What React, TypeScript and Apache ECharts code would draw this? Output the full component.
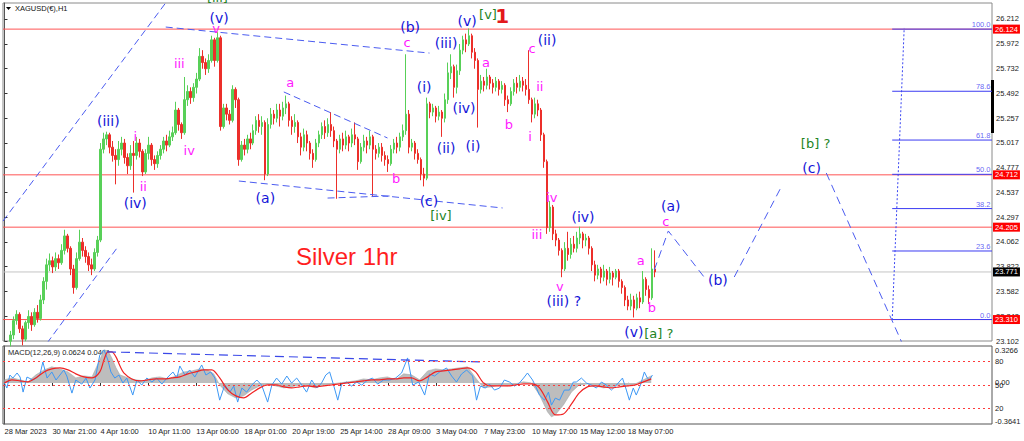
import React, { useEffect, useRef } from "react";
import * as echarts from "echarts";

// ---------- axes ----------
const N_CATS = 330;
const START_INDEX = 2;
const X_LABEL_IDX = [0, 16, 32, 48, 64, 80, 96, 112, 128, 144, 160, 176, 192, 208];
const X_LABELS = [
  "28 Mar 2023", "30 Mar 21:00", "4 Apr 16:00", "10 Apr 11:00", "13 Apr 06:00",
  "18 Apr 01:00", "20 Apr 19:00", "25 Apr 14:00", "28 Apr 09:00", "3 May 04:00",
  "7 May 23:00", "10 May 17:00", "15 May 12:00", "18 May 07:00",
];
const Y_MIN = 23.102;
const Y_MAX = 26.377;
const Y_STEP = 0.24;
const Y_TICK_LABELS = [
  "23.102", "23.342", "23.582", "23.822", "24.062", "24.297", "24.537",
  "24.777", "25.017", "25.257", "25.492", "25.732", "25.972", "26.212",
];

// ---------- price candles [open, close, low, high] ----------
const CANDLES = [
  [23.10, 23.16, 23.05, 23.20], [23.16, 23.30, 23.12, 23.34], [23.30, 23.36, 23.26, 23.40],
  [23.36, 23.22, 23.18, 23.38], [23.22, 23.12, 23.06, 23.25], [23.12, 23.28, 23.10, 23.30],
  [23.28, 23.34, 23.22, 23.40], [23.34, 23.26, 23.20, 23.38], [23.26, 23.38, 23.24, 23.42],
  [23.38, 23.32, 23.28, 23.45], [23.32, 23.50, 23.30, 23.55], [23.50, 23.68, 23.46, 23.72],
  [23.68, 23.84, 23.60, 23.90], [23.84, 23.88, 23.78, 23.95], [23.88, 23.82, 23.76, 23.92],
  [23.82, 23.90, 23.78, 23.96], [23.90, 23.86, 23.80, 23.94], [23.86, 23.98, 23.84, 24.04],
  [23.98, 24.12, 23.94, 24.18], [24.12, 24.00, 23.96, 24.14], [24.00, 23.80, 23.74, 24.02],
  [23.80, 23.62, 23.56, 23.84], [23.62, 23.90, 23.60, 23.96], [23.90, 24.06, 23.88, 24.18],
  [24.06, 23.98, 23.92, 24.10], [23.98, 23.92, 23.86, 24.02], [23.92, 23.84, 23.78, 23.96],
  [23.84, 23.80, 23.74, 23.90], [23.80, 23.96, 23.78, 24.00], [23.96, 24.08, 23.92, 24.12],
  [24.08, 24.96, 24.06, 25.02], [24.96, 25.06, 24.92, 25.12], [25.06, 25.10, 25.00, 25.13],
  [25.10, 24.98, 24.92, 25.12], [24.98, 24.90, 24.84, 25.04], [24.90, 24.86, 24.62, 24.96],
  [24.86, 24.96, 24.80, 25.04], [24.96, 25.02, 24.90, 25.08], [25.02, 24.88, 24.82, 25.06],
  [24.88, 24.80, 24.72, 24.92], [24.80, 24.92, 24.76, 25.00], [24.92, 24.90, 24.54, 25.04],
  [24.90, 25.02, 24.86, 25.08], [25.02, 24.94, 24.88, 25.06], [24.94, 24.74, 24.70, 24.96],
  [24.74, 24.92, 24.72, 24.96], [24.92, 25.00, 24.86, 25.08], [25.00, 24.86, 24.80, 25.02],
  [24.86, 24.82, 24.76, 24.90], [24.82, 24.90, 24.78, 24.94], [24.90, 24.96, 24.86, 25.00],
  [24.96, 25.04, 24.92, 25.08], [25.04, 25.00, 24.94, 25.10], [25.00, 25.08, 24.98, 25.14],
  [25.08, 25.12, 25.04, 25.18], [25.12, 25.34, 25.10, 25.42], [25.34, 25.20, 25.14, 25.36],
  [25.20, 25.12, 25.06, 25.22], [25.12, 25.44, 25.10, 25.66], [25.44, 25.52, 25.38, 25.58],
  [25.52, 25.46, 25.40, 25.56], [25.46, 25.56, 25.42, 25.60], [25.56, 25.64, 25.50, 25.70],
  [25.64, 25.86, 25.62, 25.94], [25.86, 25.80, 25.74, 25.92], [25.80, 25.74, 25.68, 25.84],
  [25.74, 25.82, 25.70, 25.88], [25.82, 26.02, 25.80, 26.06], [26.02, 25.82, 25.76, 26.04],
  [25.82, 26.04, 25.80, 26.10], [26.04, 25.18, 25.14, 26.06], [25.18, 25.36, 25.16, 25.40],
  [25.36, 25.30, 25.24, 25.40], [25.30, 25.24, 25.20, 25.34], [25.24, 25.54, 25.22, 25.58],
  [25.54, 25.44, 25.36, 25.56], [25.44, 24.86, 24.80, 25.46], [24.86, 25.00, 24.84, 25.04],
  [25.00, 24.96, 24.90, 25.06], [24.96, 25.06, 24.92, 25.10], [25.06, 25.02, 24.96, 25.12],
  [25.02, 25.14, 25.00, 25.20], [25.14, 25.24, 25.10, 25.28], [25.24, 25.18, 25.12, 25.30],
  [25.18, 25.22, 25.10, 25.28], [25.22, 24.72, 24.66, 25.24], [24.72, 25.20, 24.70, 25.26],
  [25.20, 25.30, 25.16, 25.36], [25.30, 25.26, 25.20, 25.34], [25.26, 25.34, 25.22, 25.40],
  [25.34, 25.28, 25.18, 25.40], [25.28, 25.36, 25.24, 25.42], [25.36, 25.40, 25.30, 25.48],
  [25.40, 25.24, 25.18, 25.42], [25.24, 25.18, 25.10, 25.28], [25.18, 25.22, 25.12, 25.30],
  [25.22, 25.08, 25.02, 25.24], [25.08, 24.98, 24.90, 25.12], [24.98, 25.10, 24.94, 25.16],
  [25.10, 25.02, 24.94, 25.14], [25.02, 24.92, 24.86, 25.04], [24.92, 24.86, 24.78, 24.96],
  [24.86, 25.02, 24.84, 25.06], [25.02, 25.10, 24.98, 25.14], [25.10, 25.18, 25.06, 25.22],
  [25.18, 25.12, 25.06, 25.24], [25.12, 25.20, 25.08, 25.26], [25.20, 25.14, 25.08, 25.32],
  [25.14, 25.04, 24.98, 25.18], [25.04, 24.96, 24.48, 25.06], [24.96, 25.06, 24.92, 25.10],
  [25.06, 25.00, 24.94, 25.12], [25.00, 25.08, 24.96, 25.14], [25.08, 25.02, 24.94, 25.10],
  [25.02, 25.10, 24.98, 25.16], [25.10, 25.06, 25.00, 25.22], [25.06, 24.84, 24.76, 25.08],
  [24.84, 24.98, 24.82, 25.02], [24.98, 25.04, 24.94, 25.10], [25.04, 25.00, 24.92, 25.08],
  [25.00, 25.08, 24.96, 25.14], [25.08, 24.96, 24.50, 25.10], [24.96, 24.92, 24.86, 25.00],
  [24.92, 24.98, 24.88, 25.02], [24.98, 24.90, 24.84, 25.02], [24.90, 24.86, 24.80, 24.94],
  [24.86, 24.82, 24.74, 24.90], [24.82, 24.96, 24.80, 25.00], [24.96, 25.02, 24.92, 25.06],
  [25.02, 24.98, 24.92, 25.08], [24.98, 25.08, 24.94, 25.12], [25.08, 25.14, 25.04, 25.20],
  [25.14, 25.30, 25.10, 25.88], [25.30, 24.98, 24.92, 25.34], [24.98, 25.02, 24.94, 25.06],
  [25.02, 24.92, 24.86, 25.04], [24.92, 24.86, 24.82, 24.96], [24.86, 24.72, 24.66, 24.88],
  [24.72, 24.68, 24.60, 24.78], [24.68, 25.40, 24.66, 25.46], [25.40, 25.32, 25.26, 25.42],
  [25.32, 25.36, 25.28, 25.40], [25.36, 25.28, 25.22, 25.38], [25.28, 25.32, 25.24, 25.38],
  [25.32, 25.26, 25.08, 25.34], [25.26, 25.44, 25.22, 25.50], [25.44, 25.70, 25.40, 25.80],
  [25.70, 25.76, 25.64, 25.88], [25.76, 25.56, 25.46, 25.78], [25.56, 25.72, 25.50, 25.78],
  [25.72, 25.92, 25.68, 25.98], [25.92, 26.02, 25.88, 26.06], [26.02, 25.98, 25.90, 26.08],
  [25.98, 26.06, 25.96, 26.13], [26.06, 25.90, 25.84, 26.08], [25.90, 25.82, 25.74, 25.94],
  [25.82, 25.54, 25.17, 25.84], [25.54, 25.62, 25.50, 25.68], [25.62, 25.58, 25.52, 25.66],
  [25.58, 25.66, 25.54, 25.74], [25.66, 25.60, 25.54, 25.68], [25.60, 25.56, 25.50, 25.64],
  [25.56, 25.62, 25.52, 25.66], [25.62, 25.54, 25.48, 25.64], [25.54, 25.58, 25.50, 25.62],
  [25.58, 25.44, 25.38, 25.60], [25.44, 25.40, 25.32, 25.48], [25.40, 25.52, 25.38, 25.56],
  [25.52, 25.60, 25.48, 25.64], [25.60, 25.56, 25.50, 25.66], [25.56, 25.62, 25.52, 25.68],
  [25.62, 25.58, 25.52, 25.66], [25.58, 25.54, 25.48, 25.64], [25.54, 25.44, 25.40, 25.92],
  [25.44, 25.30, 25.22, 25.46], [25.30, 25.40, 25.26, 25.46], [25.40, 25.34, 25.28, 25.44],
  [25.34, 25.10, 25.04, 25.36], [25.10, 24.84, 24.78, 25.12], [24.84, 24.20, 24.14, 24.86],
  [24.20, 24.40, 24.16, 24.46], [24.40, 24.14, 24.08, 24.42], [24.14, 24.08, 24.02, 24.18],
  [24.08, 23.98, 23.93, 24.10], [23.98, 23.80, 23.72, 24.00], [23.80, 24.00, 23.78, 24.06],
  [24.00, 23.94, 23.88, 24.16], [23.94, 24.04, 23.90, 24.10], [24.04, 24.00, 23.96, 24.12],
  [24.00, 24.10, 23.96, 24.16], [24.10, 24.14, 24.04, 24.21], [24.14, 24.08, 24.00, 24.16],
  [24.08, 24.10, 24.02, 24.14], [24.10, 24.00, 23.94, 24.12], [24.00, 23.84, 23.78, 24.02],
  [23.84, 23.74, 23.68, 23.88], [23.74, 23.80, 23.70, 23.84], [23.80, 23.72, 23.66, 23.82],
  [23.72, 23.78, 23.68, 23.84], [23.78, 23.70, 23.64, 23.80], [23.70, 23.76, 23.66, 23.82],
  [23.76, 23.72, 23.64, 23.78], [23.72, 23.78, 23.70, 23.80], [23.78, 23.68, 23.62, 23.80],
  [23.68, 23.62, 23.56, 23.70], [23.62, 23.50, 23.44, 23.64], [23.50, 23.44, 23.40, 23.54],
  [23.44, 23.50, 23.40, 23.56], [23.50, 23.42, 23.33, 23.54], [23.42, 23.52, 23.40, 23.56],
  [23.52, 23.48, 23.42, 23.58], [23.48, 23.70, 23.46, 23.78], [23.70, 23.60, 23.54, 23.72],
  [23.60, 23.52, 23.46, 23.64], [23.52, 23.80, 23.50, 24.00], [23.80, 23.771, 23.72, 23.98],
];

// ---------- horizontal levels ----------
const RED_LEVELS = [26.124, 24.712, 24.205, 23.31];
const LAST_PRICE = 23.771;
const FIB_LOW = 23.31;
const FIB_HIGH = 26.124;
const FIB_LEVELS = [0, 23.6, 38.2, 50, 61.8, 78.6, 100];
const FIB_START = 296.2;
const FIB_DIAGONAL = [[296.2, 23.305], [300.2, 26.135]];

// ---------- trend lines / projection (index, price) ----------
const TRENDLINES = [
  [[-0.5, 24.264], [60, 26.62]],
  [[14.2, 23.082], [37.8, 24.013]],
  [[53.8, 26.144], [141.8, 25.892]],
  [[78.2, 24.652], [166.2, 24.391]],
  [[107.8, 24.487], [128.5, 24.507]],
  [[93.2, 25.515], [127.8, 25.069]],
];
const PROJECTION = [
  [[216.8, 23.79], [221.5, 24.168], [234.2, 23.693]],
  [[243.5, 23.722], [259.5, 24.613]],
  [[274.2, 24.73], [299.5, 23.082]],
];

// ---------- wave labels [index, price, text, kind] ----------
const WAVE_LABELS: [number, number, string, string][] = [
  [71.2, 26.425, "[iii]", "g"], [71.8, 26.222, "(v)", "b"], [70.8, 26.125, "v", "m"],
  [58.5, 25.786, "iii", "m"], [61.8, 24.943, "iv", "m"], [34.8, 25.224, "(iii)", "b"],
  [43.8, 25.078, "i", "m"], [46.5, 24.594, "ii", "m"], [43.8, 24.439, "(iv)", "b"],
  [95.5, 25.602, "a", "m"], [87.2, 24.487, "(a)", "b"], [130.8, 24.671, "b", "m"],
  [141.8, 24.458, "(c)", "b"], [145.8, 24.313, "[iv]", "g"], [135.5, 26.144, "(b)", "b"],
  [134.5, 25.989, "c", "m"], [140.2, 25.563, "(i)", "b"], [147.5, 24.972, "(ii)", "b"],
  [147.5, 25.989, "(iii)", "b"], [153.5, 25.359, "(iv)", "b"], [154.5, 26.193, "(v)", "b"],
  [161.5, 26.261, "[v]", "g"], [166.2, 26.251, "1", "r"], [156.5, 24.991, "(i)", "b"],
  [160.8, 25.796, "a", "m"], [168.5, 25.195, "b", "m"], [176.2, 25.931, "c", "m"],
  [181.2, 26.009, "(ii)", "b"], [178.8, 25.563, "ii", "m"], [175.5, 25.078, "i", "m"],
  [182.8, 24.487, "iv", "m"], [177.8, 24.129, "iii", "m"], [193.2, 24.303, "(iv)", "b"],
  [185.5, 23.625, "v", "m"], [186.8, 23.48, "(iii) ?", "b"], [212.5, 23.877, "a", "m"],
  [216.2, 23.422, "b", "m"], [210.2, 23.189, "(v)", "b"], [218.5, 23.17, "[a] ?", "g"],
  [222.5, 24.41, "(a)", "b"], [220.8, 24.255, "c", "m"], [238.2, 23.693, "(b)", "b"],
  [270.8, 25.011, "[b] ?", "g"], [269.5, 24.778, "(c)", "b"],
];

// ---------- MACD panel [index, value] ----------
const MACD_TITLE = "MACD(12,26,9) 0.0624 0.0401";
const MACD_MIN = -0.3641;
const MACD_MAX = 0.3266;
const MACD_HIST = [
  [0, 0.027], [2.5, 0.044], [5.2, 0.027], [7.8, 0.009], [10.5, 0.071], [13.2, 0.115], [15.8, 0.142],
  [18.5, 0.124], [21.2, 0.097], [23.8, 0.044], [26.5, 0.062], [29.2, 0.053], [31.8, 0.204], [33.2, 0.292],
  [34.5, 0.283], [35.8, 0.221], [37.2, 0.133], [38.5, 0.071], [41.2, 0.044], [43.8, 0.027], [46.5, 0.018],
  [49.2, 0.044], [51.8, 0.053], [54.5, 0.035], [57.2, 0.062], [59.8, 0.097], [62.5, 0.106], [65.2, 0.124],
  [67.8, 0.115], [69.8, 0.08], [71.8, -0.018], [74.5, -0.097], [77.2, -0.133], [79.8, -0.115], [82.5, -0.062],
  [85.2, -0.027], [87.8, -0.009], [90.5, -0.027], [93.2, -0.044], [95.8, -0.035], [98.5, -0.018], [101.2, -0.027],
  [103.8, -0.044], [106.5, -0.018], [109.2, -0.009], [111.8, 0], [114.5, 0.009], [117.2, 0.018], [119.8, 0.035],
  [122.5, 0.027], [125.2, 0.044], [127.8, 0.053], [130.5, 0.027], [133.2, 0.08], [135.8, 0.071], [138.5, 0.027],
  [141.2, 0.106], [143.8, 0.124], [146.5, 0.115], [149.2, 0.124], [151.8, 0.133], [154.5, 0.142], [157.2, 0.044],
  [159.8, -0.044], [162.5, -0.035], [165.2, -0.018], [167.8, -0.027], [170.5, -0.009], [173.2, 0.009], [175.8, 0],
  [178.5, -0.106], [181.2, -0.257], [182.5, -0.301], [183.8, -0.283], [186.5, -0.195], [189.2, -0.08], [191.8, -0.018],
  [194.5, -0.009], [197.2, -0.027], [199.8, -0.044], [202.5, -0.035], [205.2, -0.018], [207.8, -0.027], [210.5, -0.009],
  [213.2, 0.027], [215.8, 0.062],
];
const MACD_SIGNAL = [
  [0, 0], [2.5, 0.027], [5.2, 0.018], [7.8, 0.009], [10.5, 0.044], [13.2, 0.097], [15.8, 0.124], [18.5, 0.133],
  [21.2, 0.115], [23.8, 0.08], [26.5, 0.053], [29.2, 0.044], [31.8, 0.097], [33.2, 0.204], [34.5, 0.275], [35.8, 0.275],
  [37.2, 0.23], [38.5, 0.151], [39.8, 0.089], [42.5, 0.035], [45.2, 0.018], [47.8, 0.027], [50.5, 0.035], [53.2, 0.035],
  [55.8, 0.044], [58.5, 0.053], [61.2, 0.08], [63.8, 0.097], [66.5, 0.115], [69.2, 0.115], [71.8, 0.044], [74.5, -0.062],
  [77.2, -0.115], [79.8, -0.133], [82.5, -0.089], [85.2, -0.044], [87.8, -0.018], [90.5, -0.018], [93.2, -0.035],
  [95.8, -0.044], [98.5, -0.035], [101.2, -0.027], [103.8, -0.035], [106.5, -0.027], [109.2, -0.018], [111.8, -0.009],
  [114.5, 0], [117.2, 0.009], [119.8, 0.018], [122.5, 0.027], [125.2, 0.027], [127.8, 0.035], [130.5, 0.035],
  [133.2, 0.044], [135.8, 0.044], [138.5, 0.018], [141.2, 0.053], [143.8, 0.097], [146.5, 0.106], [149.2, 0.115],
  [151.8, 0.124], [154.5, 0.133], [157.2, 0.097], [159.8, 0], [162.5, -0.027], [165.2, -0.027], [167.8, -0.027],
  [170.5, -0.018], [173.2, -0.009], [175.8, -0.009], [178.5, -0.044], [181.2, -0.168], [183.8, -0.283], [186.5, -0.275],
  [189.2, -0.186], [191.8, -0.089], [194.5, -0.035], [197.2, -0.027], [199.8, -0.035], [202.5, -0.044], [205.2, -0.035],
  [207.8, -0.027], [210.5, -0.018], [213.2, 0.009], [215.8, 0.035],
];
const OSC_LINE = [
  [0, 52.5], [0.8, 46.1], [1.8, 62.8], [2.8, 58.9], [4.2, 65.4], [5.2, 60.2], [6.2, 40.9], [7.5, 60.2], [9.5, 56.4],
  [11.8, 62.8], [12.8, 79.5], [14.2, 58.9], [15.8, 66.7], [17.2, 56.4], [18.5, 62.8], [19.8, 69.2], [20.8, 61.5],
  [22.5, 39.6], [23.8, 56.4], [25.8, 51.2], [27.2, 58.9], [28.5, 46.1], [30.2, 56.4], [31.8, 88.5], [33.2, 95],
  [34.5, 82], [35.5, 66.7], [36.8, 58.9], [38.2, 62.8], [39.5, 52.5], [40.8, 58.9], [42.8, 37.1], [44.2, 56.4],
  [45.8, 49.9], [47.5, 58.9], [49.2, 53.8], [50.8, 58.9], [52.5, 51.2], [54.2, 58.9], [56.2, 66.7], [57.5, 58.9],
  [58.5, 74.4], [60.2, 62.8], [61.8, 69.2], [63.5, 60.2], [65.8, 75.7], [67.2, 62.8], [68.8, 66.7], [70.2, 58.9],
  [71.8, 30.6], [73.5, 49.9], [75.2, 40.9], [76.5, 48.6], [77.8, 28.1], [79.2, 46.1], [80.8, 40.9], [82.5, 49.9],
  [84.2, 56.4], [85.8, 49.9], [87.8, 28.1], [89.2, 49.9], [90.8, 58.9], [92.5, 51.2], [94.2, 61.5], [95.8, 52.5],
  [97.5, 58.9], [99.2, 49.9], [100.8, 40.9], [102.5, 56.4], [104.2, 46.1], [105.8, 52.5], [107.2, 62.8], [108.5, 66.7],
  [109.8, 49.9], [111.2, 30.6], [112.5, 51.2], [114.2, 53.8], [115.8, 48.6], [117.5, 53.8], [119.2, 49.9], [121.2, 56.4],
  [122.8, 58.9], [124.5, 51.2], [126.5, 56.4], [128.5, 56.4], [130.5, 58.9], [132.5, 65.4], [134.5, 84.7], [136.2, 49.9],
  [138.2, 53.8], [140.2, 37.1], [141.8, 64.1], [143.5, 61.5], [145.2, 66.7], [147.5, 71.8], [149.2, 61.5], [150.8, 53.8],
  [152.5, 64.1], [154.2, 69.2], [156.2, 61.5], [157.5, 30.6], [158.8, 48.6], [160.5, 46.1], [161.8, 51.2], [163.5, 43.5],
  [165.2, 46.1], [166.8, 56.4], [168.5, 53.8], [170.2, 48.6], [171.8, 52.5], [173.2, 58.9], [174.5, 65.4], [176.2, 56.4],
  [177.5, 46.1], [178.5, 37.1], [180.2, 30.6], [181.5, 40.9], [182.5, 24.2], [183.8, 33.2], [185.2, 30.6], [186.8, 43.5],
  [188.5, 43.5], [189.8, 53.8], [190.8, 53.8], [192.5, 58.9], [194.2, 52.5], [195.8, 49.9], [197.5, 46.1], [199.2, 53.8],
  [200.8, 49.9], [202.5, 43.5], [204.2, 49.9], [206.2, 58.9], [207.5, 43.5], [208.5, 30.6], [209.8, 46.1], [210.8, 37.1],
  [212.2, 49.9], [213.5, 66.7], [214.5, 58.9], [215.2, 56.4], [216.2, 62.8],
];
const OSC_LEVELS = [80, 50, 20];
const MACD_TREND = [[34.2, 92.5], [159.2, 79.5]];

const FONT = "Liberation Sans";
const WAVE_FONT = "DejaVu Sans";
const BLUE_LINE = "#4b5cf0";
const RED_LINE = "#ff5454";
const FIB_BLUE = "#3b3bf2";

export default function App() {
  const ref = useRef<HTMLDivElement>(null);

  useEffect(() => {
    if (!ref.current) return;
    const chart = echarts.init(ref.current, null, { renderer: "svg" });

    const cats = Array.from({ length: N_CATS }, (_, i) => {
      const k = X_LABEL_IDX.indexOf(i);
      return k >= 0 ? X_LABELS[k] : "";
    });
    const candleData: any[] = [];
    for (let i = 0; i < START_INDEX; i++) candleData.push(["-", "-", "-", "-"]);
    CANDLES.forEach((c) => candleData.push(c));

    const fibPrice = (lvl: number) => FIB_LOW + ((FIB_HIGH - FIB_LOW) * lvl) / 100;
    const kindStyle: Record<string, any> = {
      b: { color: "#1414d8", fontSize: 14 },
      m: { color: "#ff1aff", fontSize: 13 },
      g: { color: "#23841f", fontSize: 13 },
      r: { color: "#e3191c", fontSize: 20 },
    };

    const levelLine = (v: number, color: string, tagBg: string, z: number) => ({
      type: "line",
      xAxisIndex: 1,
      yAxisIndex: 0,
      data: [[-0.5, v], [N_CATS - 0.5, v]],
      symbol: "none",
      silent: true,
      z,
      lineStyle: { color, width: 1, type: "solid" },
      endLabel: {
        show: true,
        distance: 1,
        formatter: v.toFixed(3),
        backgroundColor: tagBg,
        color: "#fff",
        padding: [1, 2, 0, 2],
        fontSize: 7.5,
        fontFamily: FONT,
      },
    });

    const dashedLine = (pts: number[][], dash: number[]) => ({
      type: "line",
      xAxisIndex: 1,
      yAxisIndex: 0,
      data: pts,
      symbol: "none",
      silent: true,
      clip: true,
      lineStyle: { color: BLUE_LINE, width: 1, type: dash },
      z: 4,
    });

    const option: any = {
      animation: false,
      backgroundColor: "#ffffff",
      grid: [
        { left: 3, top: 3, width: 989, height: 338, show: true, borderColor: "#8a8a8a", borderWidth: 1, backgroundColor: "#fff" },
        { left: 3, top: 346, width: 989, height: 78, show: true, borderColor: "#555", borderWidth: 1, backgroundColor: "#fff" },
      ],
      xAxis: [
        { type: "category", gridIndex: 0, data: cats, boundaryGap: true, axisLine: { show: false }, axisTick: { show: false }, axisLabel: { show: false }, splitLine: { show: false } },
        { type: "value", gridIndex: 0, min: -0.5, max: N_CATS - 0.5, show: false },
        {
          type: "category", gridIndex: 1, data: cats, boundaryGap: true,
          axisLine: { show: false },
          axisTick: { show: true, length: 3, alignWithLabel: true, interval: (_i: number, v: string) => v !== "", lineStyle: { color: "#333" } },
          axisLabel: { show: true, interval: 0, align: "left", margin: 3, fontSize: 7.5, fontFamily: FONT, color: "#222" },
          splitLine: { show: false },
        },
        { type: "value", gridIndex: 1, min: -0.5, max: N_CATS - 0.5, show: false },
      ],
      yAxis: [
        {
          type: "value", gridIndex: 0, position: "right", min: Y_MIN, max: Y_MAX, interval: Y_STEP,
          axisLine: { show: true, lineStyle: { color: "#555" } },
          axisTick: { show: true, length: 3, lineStyle: { color: "#333" } },
          splitLine: { show: false },
          axisLabel: {
            show: true, margin: 4, fontSize: 7.5, fontFamily: FONT, color: "#222", showMaxLabel: false,
            formatter: (v: number) => Y_TICK_LABELS[Math.round((v - Y_MIN) / Y_STEP)] ?? "",
          },
        },
        {
          type: "value", gridIndex: 1, position: "right", min: MACD_MIN, max: MACD_MAX, interval: -MACD_MIN,
          axisLine: { show: true, lineStyle: { color: "#555" } },
          axisTick: { show: false },
          splitLine: { show: false },
          axisLabel: {
            show: true, margin: 3, fontSize: 7.5, fontFamily: FONT, color: "#222", showMinLabel: true, showMaxLabel: true,
            formatter: (v: number) => {
              if (Math.abs(v) < 1e-9) return "0.00";
              if (v > 0) return "{t|" + v.toFixed(4) + "}";
              return "{d|" + v.toFixed(4) + "}";
            },
            rich: {
              t: { padding: [9, 0, 0, 0], fontSize: 7.5, fontFamily: FONT, color: "#222" },
              d: { padding: [0, 0, 6, 0], fontSize: 7.5, fontFamily: FONT, color: "#222" },
            },
          },
        },
        {
          type: "value", gridIndex: 1, position: "right", min: 0, max: 100, interval: 10,
          axisLine: { show: false }, axisTick: { show: false }, splitLine: { show: false },
          axisLabel: {
            show: true, margin: 3, fontSize: 7.5, fontFamily: FONT, color: "#222",
            formatter: (v: number) => (OSC_LEVELS.includes(v) ? String(v) : ""),
          },
        },
      ],
      series: [
        {
          type: "candlestick",
          xAxisIndex: 0,
          yAxisIndex: 0,
          data: candleData,
          barWidth: 2,
          clip: true,
          z: 3,
          itemStyle: { color: "#58d058", color0: "#ec2f2a", borderColor: "#58d058", borderColor0: "#ec2f2a", borderWidth: 1 },
        },
        levelLine(LAST_PRICE, "#c4c4c4", "#000", 1),
        ...RED_LEVELS.map((v) => levelLine(v, RED_LINE, "#ff0000", 2)),
        ...FIB_LEVELS.map((l) => ({
          type: "line",
          xAxisIndex: 1,
          yAxisIndex: 0,
          data: [[FIB_START, fibPrice(l)], [N_CATS - 0.5, fibPrice(l)]],
          symbol: "none",
          silent: true,
          z: 2,
          lineStyle: { color: FIB_BLUE, width: 1, type: "solid" },
        })),
        {
          type: "scatter",
          xAxisIndex: 1,
          yAxisIndex: 0,
          clip: false,
          silent: true,
          symbolSize: 1,
          itemStyle: { color: "rgba(0,0,0,0)" },
          z: 5,
          data: FIB_LEVELS.map((l) => ({
            value: [N_CATS - 0.5, fibPrice(l)],
            label: {
              show: true,
              position: [-1, -8],
              align: "right",
              verticalAlign: "top",
              formatter: l.toFixed(1),
              fontSize: 7.5,
              fontFamily: FONT,
              color: FIB_BLUE,
              textBorderWidth: 0,
            },
          })),
        },
        {
          type: "line",
          xAxisIndex: 1,
          yAxisIndex: 0,
          data: FIB_DIAGONAL,
          symbol: "none",
          silent: true,
          lineStyle: { color: "#3a46f2", width: 1, type: [2, 2] },
          z: 4,
        },
        ...TRENDLINES.map((pts) => dashedLine(pts, [7, 4])),
        ...PROJECTION.map((pts) => dashedLine(pts, [8, 5])),
        {
          type: "scatter",
          xAxisIndex: 1,
          yAxisIndex: 0,
          clip: false,
          silent: true,
          symbolSize: 1,
          itemStyle: { color: "rgba(0,0,0,0)" },
          z: 6,
          data: WAVE_LABELS.map(([u, p, text, kind]) => ({
            value: [u, p],
            name: text,
            label: {
              show: true,
              position: [0, 0],
              align: "center",
              verticalAlign: "middle",
              formatter: text,
              fontFamily: WAVE_FONT,
              fontWeight: kind === "r" ? "bold" : "normal",
              textBorderWidth: 0,
              textBorderColor: "transparent",
              opacity: 1,
              ...kindStyle[kind],
            },
          })),
        },
        {
          type: "line",
          xAxisIndex: 3,
          yAxisIndex: 1,
          data: MACD_HIST,
          symbol: "none",
          silent: true,
          lineStyle: { color: "#a9a9a9", width: 0.6 },
          areaStyle: { color: "#bdbdbd", opacity: 1 },
          z: 2,
        },
        {
          type: "line",
          xAxisIndex: 3,
          yAxisIndex: 2,
          data: OSC_LINE,
          symbol: "none",
          silent: true,
          lineStyle: { color: "#3d98f5", width: 1 },
          z: 3,
          markLine: {
            silent: true,
            symbol: ["none", "none"],
            label: { show: false },
            lineStyle: { color: "#ff3b3b", width: 1, type: [2, 3] },
            data: OSC_LEVELS.map((v) => ({ yAxis: v })),
          },
        },
        {
          type: "line",
          xAxisIndex: 3,
          yAxisIndex: 1,
          data: MACD_SIGNAL,
          symbol: "none",
          smooth: 0.3,
          silent: true,
          lineStyle: { color: "#f02323", width: 1.2 },
          z: 4,
        },
        {
          type: "line",
          xAxisIndex: 3,
          yAxisIndex: 2,
          data: MACD_TREND,
          symbol: "none",
          silent: true,
          lineStyle: { color: "#3a48e8", width: 1.2, type: [9, 5] },
          z: 4,
        },
      ],
      graphic: [
        { type: "polygon", shape: { points: [[6, 7], [11, 7], [8.5, 10]] }, style: { fill: "#000" } },
        { type: "text", x: 15, y: 4, style: { text: "XAGUSD(€),H1", fontSize: 7.5, fontFamily: FONT, fill: "#111" } },
        { type: "text", x: 296, y: 244, style: { text: "Silver 1hr", fontSize: 24, fontFamily: FONT, fill: "#ff1f1f" } },
        { type: "text", x: 8, y: 348, style: { text: MACD_TITLE, fontSize: 7.5, fontFamily: FONT, fill: "#222" } },
        { type: "rect", shape: { x: 991, y: 80, width: 3, height: 53 }, style: { fill: "#000" } },
      ],
    };

    chart.setOption(option);
    return () => chart.dispose();
  }, []);

  return (
    <div
      ref={ref}
      style={{ position: "fixed", left: 0, top: 0, width: 1024, height: 441, background: "#fff" }}
    />
  );
}
